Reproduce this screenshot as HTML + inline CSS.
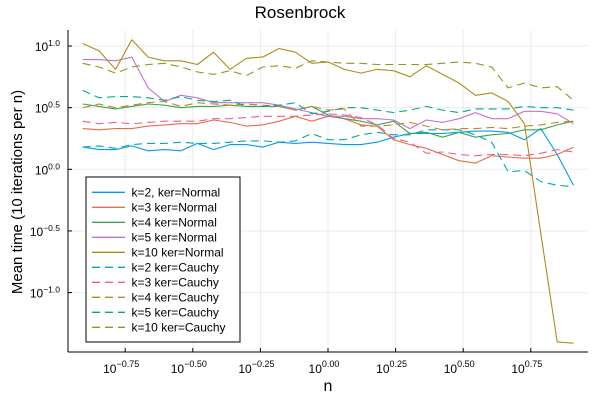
<!DOCTYPE html>
<html><head><meta charset="utf-8"><style>
body{margin:0;background:#fff;}
svg{display:block;font-family:"Liberation Sans","DejaVu Sans",sans-serif;}
</style></head><body>
<svg id="chart" width="600" height="400" viewBox="0 0 600 400" xmlns="http://www.w3.org/2000/svg">
<rect width="600" height="400" fill="#fff"/>
<text x="300" y="18" text-anchor="middle" font-size="17" fill="#000">Rosenbrock</text>
<g id="grid"></g>
<g id="series"></g>
<g id="axes"></g>
<text x="328" y="391" text-anchor="middle" font-size="16">n</text>
<text transform="translate(22,192) rotate(-90)" text-anchor="middle" font-size="15">Mean time (10 iterations per n)</text>
<g id="legend"></g>
</svg>
<script>
// log10(n) sample positions
const logN = [];
for (let i = 0; i <= 30; i++) logN.push(-0.907 + i * 0.0605);
const xTicks = [-0.75, -0.5, -0.25, 0, 0.25, 0.5, 0.75];
const xTickLabels = ["−0.75", "−0.50", "−0.25", "0.00", "0.25", "0.50", "0.75"];
const yTicks = [-1.0, -0.5, 0, 0.5, 1.0];
const yTickLabels = ["−1.0", "−0.5", "0.0", "0.5", "1.0"];
const seriesNames = ["k=2, ker=Normal","k=3 ker=Normal","k=4 ker=Normal","k=5 ker=Normal","k=10 ker=Normal","k=2 ker=Cauchy","k=3 ker=Cauchy","k=4 ker=Cauchy","k=5 ker=Cauchy","k=10 ker=Cauchy"];
// log10 mean time values
const k2Normal = [0.18,0.16,0.16,0.19,0.15,0.16,0.15,0.21,0.16,0.20,0.20,0.18,0.22,0.21,0.22,0.21,0.20,0.20,0.22,0.26,0.29,0.29,0.29,0.30,0.31,0.31,0.30,0.24,0.33,0.12,-0.13];
const k3Normal = [0.33,0.32,0.33,0.33,0.35,0.36,0.37,0.37,0.40,0.38,0.35,0.36,0.39,0.43,0.39,0.43,0.41,0.36,0.35,0.24,0.20,0.17,0.12,0.07,0.05,0.11,0.10,0.09,0.09,0.12,0.18];
const k4Normal = [0.53,0.51,0.49,0.51,0.53,0.52,0.50,0.51,0.51,0.52,0.51,0.51,0.51,0.48,0.51,0.44,0.41,0.39,0.36,0.39,0.29,0.30,0.26,0.30,0.26,0.28,0.29,0.32,0.32,0.36,0.39];
const k5Normal = [0.89,0.89,0.88,0.91,0.66,0.55,0.60,0.58,0.54,0.54,0.54,0.54,0.52,0.49,0.46,0.43,0.43,0.41,0.41,0.40,0.33,0.40,0.38,0.41,0.46,0.41,0.41,0.47,0.47,0.45,0.37];
const k10Normal = [1.02,0.96,0.81,1.05,0.91,0.88,0.88,0.85,0.95,0.81,0.90,0.91,0.98,0.95,0.86,0.87,0.81,0.78,0.81,0.80,0.75,0.84,0.77,0.70,0.60,0.62,0.55,0.37,-0.52,-1.40,-1.41];
const k2Cauchy = [0.18,0.19,0.17,0.20,0.21,0.21,0.22,0.21,0.21,0.22,0.23,0.23,0.22,0.23,0.29,0.24,0.24,0.28,0.30,0.28,0.28,0.32,0.32,0.32,0.28,0.22,-0.02,-0.01,-0.10,-0.13,-0.14];
const k3Cauchy = [0.39,0.37,0.38,0.37,0.38,0.39,0.39,0.39,0.41,0.41,0.42,0.43,0.43,0.43,0.44,0.45,0.44,0.42,0.36,0.25,0.22,0.13,0.14,0.12,0.11,0.12,0.12,0.11,0.13,0.16,0.14];
const k4Cauchy = [0.50,0.53,0.50,0.52,0.54,0.55,0.51,0.54,0.53,0.52,0.53,0.52,0.51,0.48,0.51,0.48,0.49,0.35,0.35,0.36,0.38,0.35,0.32,0.33,0.33,0.34,0.33,0.35,0.36,0.38,0.39];
const k5Cauchy = [0.64,0.58,0.59,0.59,0.58,0.56,0.59,0.56,0.55,0.56,0.51,0.51,0.52,0.54,0.45,0.47,0.50,0.50,0.48,0.46,0.48,0.51,0.48,0.46,0.49,0.49,0.49,0.51,0.50,0.50,0.48];
const k10Cauchy = [0.86,0.83,0.78,0.83,0.85,0.86,0.83,0.79,0.77,0.80,0.76,0.83,0.84,0.82,0.88,0.87,0.86,0.86,0.85,0.85,0.85,0.85,0.86,0.87,0.86,0.83,0.66,0.70,0.66,0.67,0.56];

const allSeries = [k2Normal,k3Normal,k4Normal,k5Normal,k10Normal,k2Cauchy,k3Cauchy,k4Cauchy,k5Cauchy,k10Cauchy];
const colors = ["#009AFA","#E36F47","#3EA44E","#C371D2","#AC8D18","#00A9AD","#ED5E93","#C68225","#00A98D","#8E971E"];
const slugs = ["k2-normal","k3-normal","k4-normal","k5-normal","k10-normal","k2-cauchy","k3-cauchy","k4-cauchy","k5-cauchy","k10-cauchy"];

const L = 68, R = 588, T = 30, B = 352;
function xs(v){ return 328 + v * 270.4; }
function ys(v){ return 169.3 - v * 123.3; }
const NS = "http://www.w3.org/2000/svg";
function mk(tag, attrs, parent){ const e = document.createElementNS(NS, tag); for (const k in attrs) e.setAttribute(k, attrs[k]); parent.appendChild(e); return e; }

const grid = document.getElementById('grid');
const axes = document.getElementById('axes');
xTicks.forEach((t, i) => {
  const g = mk('line', {x1: xs(t), x2: xs(t), y1: T, y2: B, stroke: '#000', 'stroke-opacity': 0.08, 'stroke-width': 1}, grid);
  
  
  const tk = mk('line', {x1: xs(t), x2: xs(t), y1: B, y2: B - 4, stroke: '#000', 'stroke-width': 1}, axes);
  
  
  const tx = mk('text', {x: xs(t) - 4, y: 373, 'text-anchor': 'middle', 'font-size': 12}, axes);
  
  
  tx.textContent = '10';
  const sp = mk('tspan', {dy: -6, 'font-size': 9}, tx);
  sp.textContent = xTickLabels[i];
});
yTicks.forEach((t, i) => {
  const g = mk('line', {x1: L, x2: R, y1: ys(t), y2: ys(t), stroke: '#000', 'stroke-opacity': 0.08, 'stroke-width': 1}, grid);
  
  
  const tk = mk('line', {x1: L, x2: L + 4, y1: ys(t), y2: ys(t), stroke: '#000', 'stroke-width': 1}, axes);
  
  
  const tx = mk('text', {x: 60, y: ys(t) + 5, 'text-anchor': 'end', 'font-size': 12}, axes);
  
  
  tx.textContent = '10';
  const sp = mk('tspan', {dy: -5, 'font-size': 8.5}, tx);
  sp.textContent = yTickLabels[i];
});
const ax1 = mk('line', {x1: L, x2: L, y1: T, y2: B, stroke: '#000', 'stroke-width': 1}, axes);


const ax2 = mk('line', {x1: L, x2: R, y1: B, y2: B, stroke: '#000', 'stroke-width': 1}, axes);



const sg = document.getElementById('series');
allSeries.forEach((vals, s) => {
  const pts = vals.map((v, i) => xs(logN[i]).toFixed(1) + ',' + ys(v).toFixed(1)).join(' ');
  const attrs = {points: pts, fill: 'none', stroke: colors[s], 'stroke-width': 1.1, 'stroke-linejoin': 'round'};
  if (s >= 5) attrs['stroke-dasharray'] = '8,5';
  const pl = mk('polyline', attrs, sg);
  
  
});

const lg = document.getElementById('legend');
const box = mk('rect', {x: 86, y: 177, width: 154, height: 165, fill: '#fff', stroke: '#000', 'stroke-width': 1}, lg);


seriesNames.forEach((nm, s) => {
  const y = 192.3 + s * 15;
  const la = {x1: 92, x2: 125, y1: y, y2: y, stroke: colors[s], 'stroke-width': 1.3};
  if (s >= 5) la['stroke-dasharray'] = '8,5';
  const ln = mk('line', la, lg);
  
  
  const tx = mk('text', {x: 131.5, y: y + 4.3, 'font-size': 12}, lg);
  
  
  tx.textContent = nm;
});
</script>
</body></html>
